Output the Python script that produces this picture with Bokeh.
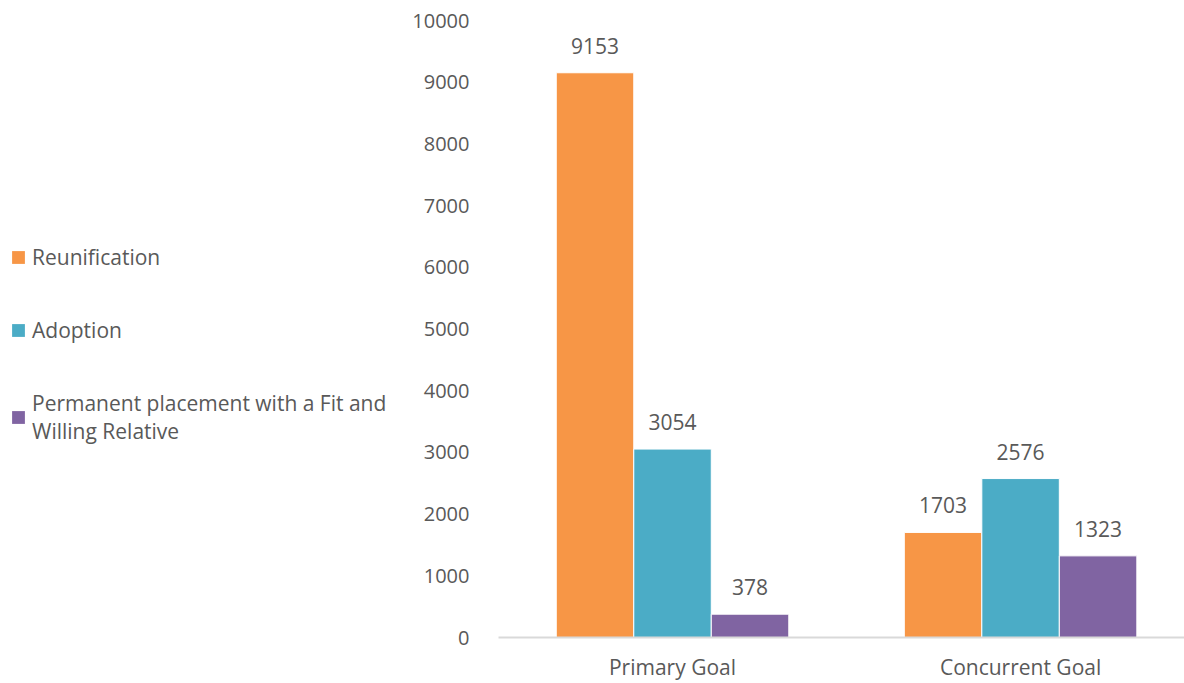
from bokeh.plotting import figure
from bokeh.layouts import row
from bokeh.models import (ColumnDataSource, LabelSet, Legend, LegendItem,
                          FixedTicker, Range1d)
from bokeh.core.properties import value
from bokeh.transform import dodge
from bokeh.embed import file_html
from bokeh.resources import INLINE

categories = ["Primary Goal", "Concurrent Goal"]
series = ["Reunification", "Adoption",
          "Permanent placement with a Fit and\nWilling Relative"]
reunification = [9153, 1703]
adoption = [3054, 2576]
permanent = [378, 1323]
colors = ["#F79646", "#4BACC6", "#8064A2"]
y_ticks = list(range(0, 10001, 1000))

FONT = "Open Sans"
TXT = "#595959"
H = 683

src = ColumnDataSource(dict(
    x=list(range(len(categories))),
    reunification=reunification,
    adoption=adoption,
    permanent=permanent,
))

p = figure(width=776, height=H, output_backend="svg", toolbar_location=None,
           x_range=Range1d(-0.5, 1.471), y_range=Range1d(0, 10000),
           min_border_left=90, min_border_right=0, min_border_top=20,
           min_border_bottom=45)
p.outline_line_color = None
p.xgrid.grid_line_color = None
p.ygrid.grid_line_color = None

offsets = [-0.2227, 0.0, 0.2227]
fields = ["reunification", "adoption", "permanent"]
for f, off, c in zip(fields, offsets, colors):
    p.vbar(x=dodge("x", off), top=f, width=0.2227, source=src,
           fill_color=c, line_color="white", line_width=1)
    lbl = LabelSet(x=dodge("x", off), y=f, text=f, source=src,
                   text_align="center", text_baseline="alphabetic",
                   y_offset=19, text_font=value(FONT), text_font_size="21px",
                   text_color=TXT)
    p.add_layout(lbl)

p.xaxis.ticker = FixedTicker(ticks=list(range(len(categories))))
p.xaxis.major_label_overrides = {i: c for i, c in enumerate(categories)}
p.xaxis.major_tick_line_color = None
p.xaxis.minor_tick_line_color = None
p.xaxis.axis_line_color = "#D9D9D9"
p.xaxis.axis_line_width = 2
p.xaxis.major_label_standoff = 9
p.xaxis.major_label_text_font = FONT
p.xaxis.major_label_text_font_size = "21px"
p.xaxis.major_label_text_color = TXT

p.yaxis.ticker = FixedTicker(ticks=y_ticks)
p.yaxis.axis_line_color = None
p.yaxis.major_tick_line_color = None
p.yaxis.minor_tick_line_color = None
p.yaxis.major_label_standoff = 23
p.yaxis.major_label_text_font = FONT
p.yaxis.major_label_text_font_size = "20px"
p.yaxis.major_label_text_color = TXT

# legend panel
lg = figure(width=408, height=H, output_backend="svg", toolbar_location=None,
            x_axis_location=None, y_axis_location=None,
            x_range=Range1d(0, 1), y_range=Range1d(0, 1),
            min_border_left=0, min_border_top=20, min_border_right=0,
            min_border_bottom=45)
lg.outline_line_color = None
lg.xgrid.grid_line_color = None
lg.ygrid.grid_line_color = None
items = []
dummy = ColumnDataSource(dict(x=[5], top=[5]))
for s, c in zip(series, colors):
    r = lg.vbar(x="x", top="top", bottom=5, width=0.1, source=dummy,
                fill_color=c, line_color=None)
    items.append(LegendItem(label=s, renderers=[r]))
legend = Legend(items=items, location=(10, 192), margin=0, padding=0,
                spacing=45, glyph_width=16, glyph_height=16,
                label_standoff=6, label_text_font=FONT,
                label_text_font_size="21px", label_text_color=TXT,
                border_line_color=None, background_fill_alpha=0)
lg.add_layout(legend)

layout = row(lg, p)
open("out.html", "w").write(file_html(layout, INLINE))
